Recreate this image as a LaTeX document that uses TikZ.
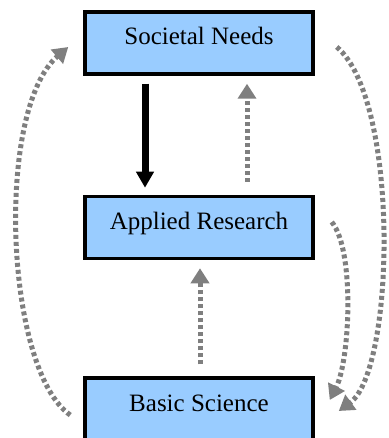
\documentclass[tikz,border=0pt]{standalone}
\usepackage{fontspec}
\setmainfont{Liberation Serif}
\usetikzlibrary{arrows.meta}
\definecolor{boxblue}{HTML}{99CCFF}
\definecolor{arrgray}{HTML}{7F7F7F}
\begin{document}
\begin{tikzpicture}[x=1pt,y=-1pt,
  box/.style={draw=black,line width=3.5pt,fill=boxblue,minimum width=228pt,minimum height=62pt,
    inner sep=0pt,text height=14pt,text depth=10pt,font=\fontsize{25}{28}\selectfont},
  solidarr/.style={line width=7pt,black,-{Triangle[length=16pt,width=17pt]}},
  dotarr/.style={line width=5pt,arrgray,dash pattern=on 4pt off 3pt,-{Triangle[length=15pt,width=18pt]}}]
\clip (0,0) rectangle (388,438);
\node[box] (soc) at (199,43) {Societal Needs};
\node[box] (app) at (199,227.5) {Applied Research};
\node[box] (bas) at (199,409) {Basic Science};
\draw[solidarr] ([xshift=-54pt,yshift=-8pt]soc.south) -- ([xshift=-54pt,yshift=7pt]app.north);
\draw[dotarr] ([xshift=48pt,yshift=13pt]app.north) -- ([xshift=48pt,yshift=-8pt]soc.south);
\draw[dotarr] ([xshift=1pt,yshift=12pt]bas.north) -- ([xshift=1pt,yshift=-8pt]app.south);
\draw[dotarr] ([xshift=-13pt,yshift=-6pt]bas.west) .. controls (5,370) and (-5,110) .. ([xshift=-15pt,yshift=-4pt]soc.west);
\draw[dotarr] ([xshift=22pt,yshift=-4pt]soc.east) .. controls (400,100) and (395,370) .. ([xshift=24pt,yshift=-2pt]bas.east);
\draw[dotarr] ([xshift=17pt,yshift=5.5pt]app.east) .. controls (355,250) and (350,360) .. ([xshift=15pt,yshift=9pt]bas.east);
\end{tikzpicture}
\end{document}
